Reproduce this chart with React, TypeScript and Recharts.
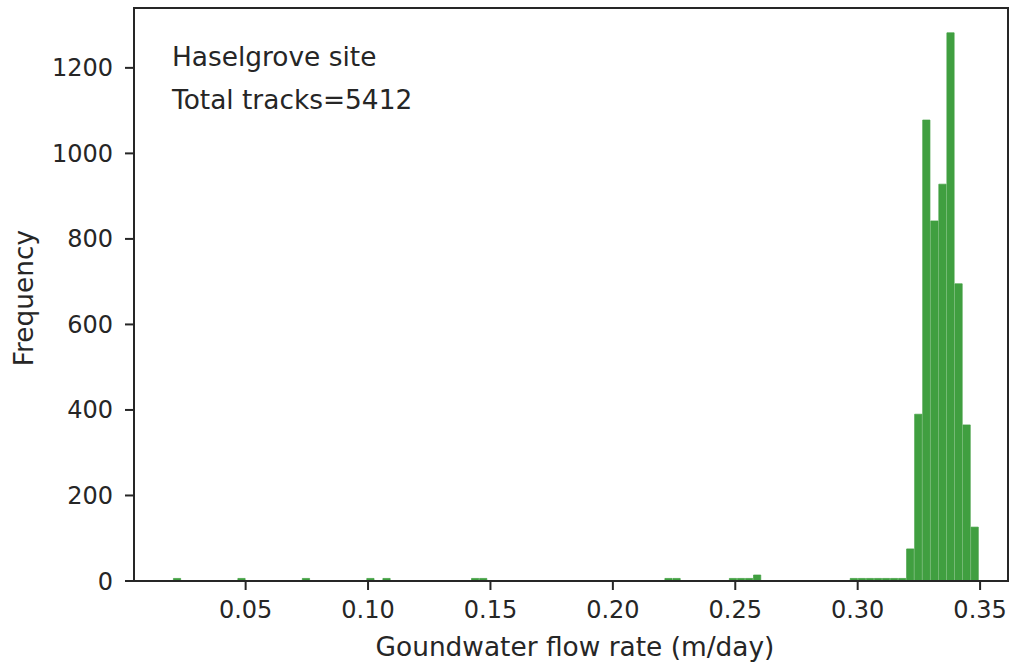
import React from 'react'
import { BarChart, Bar, XAxis, YAxis } from 'recharts'

// histogram edges (m/day) and counts per bin, 100 bins
const binStart = 0.0205
const binEnd = 0.3496
const counts = [
  6, 0, 0, 0, 0, 0, 0, 0, 6, 0,
  0, 0, 0, 0, 0, 0, 6, 0, 0, 0,
  0, 0, 0, 0, 6, 0, 6, 0, 0, 0,
  0, 0, 0, 0, 0, 0, 0, 6, 6, 0,
  0, 0, 0, 0, 0, 0, 0, 0, 0, 0,
  0, 0, 0, 0, 0, 0, 0, 0, 0, 0,
  0, 6, 6, 0, 0, 0, 0, 0, 0, 6,
  6, 6, 14, 0, 0, 0, 0, 0, 0, 0,
  0, 0, 0, 0, 6, 6, 6, 6, 6, 6,
  6, 75, 390, 1078, 842, 928, 1282, 695, 365, 126,
]
const xTicks = [0.05, 0.1, 0.15, 0.2, 0.25, 0.3, 0.35]
const yTicks = [0, 200, 400, 600, 800, 1000, 1200]

const siteName = 'Haselgrove site'
const totalTracks = 5412

const W = 1012
const H = 664
const M = { top: 8, right: 4, bottom: 0, left: 0 }
const FONT = '"DejaVu Sans", sans-serif'
const INK = '#262626'
const GREEN = '#409f40'
const LABEL_SIZE = 26.4

const binWidth = (binEnd - binStart) / counts.length
const data = counts.map((c, i) => ({ x: binStart + (i + 0.5) * binWidth, count: c }))

export default function App() {
  return (
    <div style={{ position: 'absolute', left: 0, top: 0, width: W, height: H, background: '#fff' }}>
      <BarChart
        width={W}
        height={H}
        data={data}
        margin={M}
        barCategoryGap={0}
        barGap={0}
      >
        <XAxis
          dataKey="x"
          type="number"
          domain={[0.0044, 0.3614]}
          ticks={xTicks}
          tickFormatter={(v: number) => v.toFixed(2)}
          height={83}
          axisLine={false}
          tickSize={9}
          tickMargin={11}
          tickLine={{ stroke: INK, strokeWidth: 2 }}
          tick={{ fill: INK, fontSize: 24, fontFamily: FONT }}
          allowDataOverflow
        />
        <YAxis
          type="number"
          domain={[0, 1340]}
          ticks={yTicks}
          width={134}
          axisLine={false}
          tickSize={9}
          tickMargin={12}
          tickLine={{ stroke: INK, strokeWidth: 2 }}
          tick={{ fill: INK, fontSize: 24, fontFamily: FONT }}
          allowDataOverflow
        />
        <Bar
          dataKey="count"
          fill={GREEN}
          stroke={GREEN}
          strokeWidth={0.7}
          barSize={8.06}
          isAnimationActive={false}
        />
      </BarChart>

      {/* frame, titles and annotation drawn over the chart */}
      <svg
        width={W}
        height={H}
        style={{ position: 'absolute', left: 0, top: 0, pointerEvents: 'none' }}
      >
        <rect x={134} y={8} width={874} height={573} fill="none" stroke={INK} strokeWidth={2} />
        <text x={172} y={66} fontSize={LABEL_SIZE} fontFamily={FONT} fill={INK}>
          {siteName}
        </text>
        <text x={172} y={109} fontSize={LABEL_SIZE} fontFamily={FONT} fill={INK}>
          {`Total tracks=${totalTracks}`}
        </text>
        <text x={575} y={656} fontSize={LABEL_SIZE} fontFamily={FONT} fill={INK} textAnchor="middle">
          Goundwater flow rate (m/day)
        </text>
        <text
          x={33}
          y={298}
          fontSize={LABEL_SIZE}
          fontFamily={FONT}
          fill={INK}
          textAnchor="middle"
          transform="rotate(-90 33 298)"
        >
          Frequency
        </text>
      </svg>
    </div>
  )
}
